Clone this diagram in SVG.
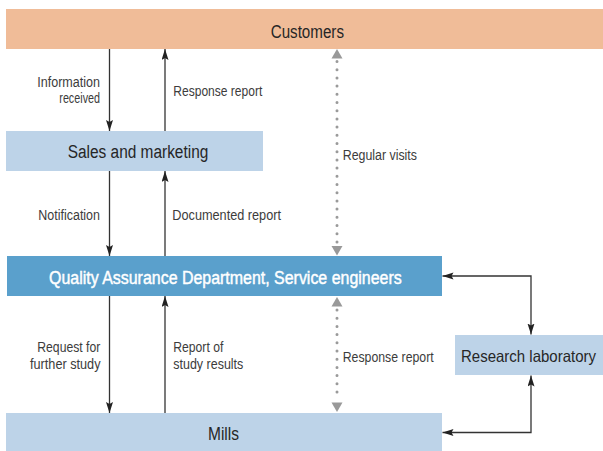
<svg xmlns="http://www.w3.org/2000/svg" width="603" height="451" viewBox="0 0 603 451">
<style>
.box{font-family:"Liberation Sans",Arial,sans-serif;font-size:18px;fill:#262626}
.qa{font-family:"Liberation Sans",Arial,sans-serif;font-size:18px;fill:#ffffff;stroke:#ffffff;stroke-width:0.45}
.lbl{font-family:"Liberation Sans",Arial,sans-serif;font-size:15.5px;fill:#3c3c3c}
.ln{stroke:#333;stroke-width:1.3;fill:none}
.dot{stroke:#9a9a9a;stroke-width:3;stroke-linecap:round;stroke-dasharray:0 8.2;fill:none}
.tri{fill:#999}
</style>
<defs>
<marker id="arr" markerUnits="userSpaceOnUse" markerWidth="12" markerHeight="8" refX="11" refY="3.5" orient="auto-start-reverse">
<path d="M0,0 L11,3.5 L0,7 L2,3.5 z" fill="#222"/>
</marker>
</defs>
<rect width="603" height="451" fill="#ffffff"/>
<g id="customers">
<rect x="6" y="9" width="597" height="40" fill="#F0BC98"/>
<text class="box" x="270.7" y="37.5" textLength="73.3" lengthAdjust="spacingAndGlyphs">Customers</text>
</g>
<g id="sales">
<rect x="6" y="131" width="257" height="40" fill="#BDD3E8"/>
<text class="box" x="67.7" y="157.5" textLength="140.6" lengthAdjust="spacingAndGlyphs">Sales and marketing</text>
</g>
<g id="qa">
<rect x="7" y="256" width="435" height="40" fill="#5AA0CC"/>
<text class="qa" x="49" y="284" textLength="352.7" lengthAdjust="spacingAndGlyphs">Quality Assurance Department, Service engineers</text>
</g>
<g id="research">
<rect x="455" y="335" width="148" height="40" fill="#BDD3E8"/>
<text class="box" x="461" y="362" style="font-size:16.5px" textLength="135" lengthAdjust="spacingAndGlyphs">Research laboratory</text>
</g>
<g id="mills">
<rect x="6" y="413" width="436" height="38" fill="#BDD3E8"/>
<text class="box" x="208" y="440" textLength="31" lengthAdjust="spacingAndGlyphs">Mills</text>
</g>
<g id="connectors">
<line class="ln" x1="109.5" y1="49" x2="109.5" y2="131" marker-end="url(#arr)"/>
<line class="ln" x1="165" y1="131" x2="165" y2="49" marker-end="url(#arr)"/>
<line class="ln" x1="109.5" y1="171" x2="109.5" y2="256" marker-end="url(#arr)"/>
<line class="ln" x1="165" y1="256" x2="165" y2="171" marker-end="url(#arr)"/>
<line class="ln" x1="109.5" y1="296" x2="109.5" y2="413" marker-end="url(#arr)"/>
<line class="ln" x1="165" y1="413" x2="165" y2="296" marker-end="url(#arr)"/>
<line class="dot" x1="337" y1="61.5" x2="337" y2="242"/>
<path class="tri" d="M337,49 L331.5,58.5 L342.5,58.5 z"/>
<path class="tri" d="M337,255.5 L331.5,246 L342.5,246 z"/>
<line class="dot" x1="337" y1="310" x2="337" y2="398"/>
<path class="tri" d="M337,297 L331.5,306.5 L342.5,306.5 z"/>
<path class="tri" d="M337,412 L331.5,402.5 L342.5,402.5 z"/>
<path class="ln" d="M442.5,276 L531,276 L531,334.5" marker-start="url(#arr)" marker-end="url(#arr)"/>
<path class="ln" d="M442.5,432.5 L531,432.5 L531,375.5" marker-start="url(#arr)" marker-end="url(#arr)"/>
</g>
<g id="labels">
<text class="lbl" x="37.3" y="86.5" textLength="62.7" lengthAdjust="spacingAndGlyphs">Information</text>
<text class="lbl" x="59.3" y="103" textLength="40.7" lengthAdjust="spacingAndGlyphs">received</text>
<text class="lbl" x="173.3" y="96" textLength="89" lengthAdjust="spacingAndGlyphs">Response report</text>
<text class="lbl" x="342.7" y="160" textLength="74.3" lengthAdjust="spacingAndGlyphs">Regular visits</text>
<text class="lbl" x="38.3" y="220" textLength="61.7" lengthAdjust="spacingAndGlyphs">Notification</text>
<text class="lbl" x="172.3" y="220" textLength="108.7" lengthAdjust="spacingAndGlyphs">Documented report</text>
<text class="lbl" x="37.3" y="352" textLength="63" lengthAdjust="spacingAndGlyphs">Request for</text>
<text class="lbl" x="30" y="368.5" textLength="70.5" lengthAdjust="spacingAndGlyphs">further study</text>
<text class="lbl" x="173.3" y="352" textLength="50" lengthAdjust="spacingAndGlyphs">Report of</text>
<text class="lbl" x="173.3" y="368.5" textLength="70" lengthAdjust="spacingAndGlyphs">study results</text>
<text class="lbl" x="342.7" y="361.5" textLength="91" lengthAdjust="spacingAndGlyphs">Response report</text>
</g>
</svg>
